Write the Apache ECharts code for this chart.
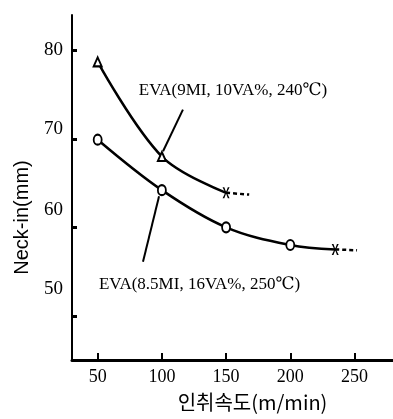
<!DOCTYPE html>
<html>
<head>
<meta charset="utf-8">
<script src="https://cdn.jsdelivr.net/npm/echarts@6/dist/echarts.min.js"></script>
<style>html,body{margin:0;padding:0;background:#fff}#c{width:393px;height:419px}</style>
</head>
<body>
<div id="c"></div>
<script>
// ---- data ----
const xTicks = [50, 100, 150, 200, 250];
const yTicks = [50, 60, 70, 80];
const upperX = [50, 100, 150];
const upperY = [78.7, 68.0, 63.9];
const upperDashX = [150, 168];
const upperDashY = [63.9, 63.7];
const lowerX = [50, 100, 150, 200, 235];
const lowerY = [69.9, 64.2, 60.0, 58.0, 57.5];
const lowerDashX = [235, 252];
const lowerDashY = [57.5, 57.4];
const upperLabel = 'EVA(9MI, 10VA%, 240℃)';
const lowerLabel = 'EVA(8.5MI, 16VA%, 250℃)';
const upperLabelAt = [82, 75.5];
const lowerLabelAt = [51, 53.5];
const upperLeader = [[116.4, 73.3], [100.9, 68.6]];
const lowerLeader = [[97.8, 63.5], [85.3, 56.1]];
const xName = '인취속도(m/min)';
const yName = 'Neck-in(mm)';

const X_SYMBOL = 'path://M0,0L2.5,0L5,6L7.5,0L10,0L6.2,7L10,14L7.5,14L5,8L2.5,14L0,14L3.8,7Z';
const pairs = (xs, ys) => xs.map((x, i) => [x, ys[i]]);

const upperData = pairs(upperX, upperY).map((p, i, a) => i === a.length - 1
  ? { value: p, symbol: X_SYMBOL, symbolSize: [7, 11], itemStyle: { color: '#000', borderWidth: 0 } }
  : { value: p });
const lowerData = pairs(lowerX, lowerY).map((p, i, a) => i === a.length - 1
  ? { value: p, symbol: X_SYMBOL, symbolSize: [7, 11], itemStyle: { color: '#000', borderWidth: 0 } }
  : { value: p });

const serif = "'Liberation Serif', 'DejaVu Serif', serif";
const labelShift = { 80: 0, 70: 20, 60: 34, 50: 54 };

const chart = echarts.init(document.getElementById('c'), null, { renderer: 'canvas' });
chart.setOption({
  animation: false,
  backgroundColor: '#fff',
  grid: { left: 72, right: 0, top: 15, bottom: 59 },
  xAxis: {
    type: 'value', min: 30, max: 280,
    name: xName, nameLocation: 'middle', nameGap: 32,
    nameTextStyle: { fontFamily: "'Noto Sans CJK KR', sans-serif", fontSize: 20, color: '#000', padding: [0, 0, 0, 40] },
    axisLine: { show: true, lineStyle: { color: '#000', width: 3 } },
    axisTick: { show: true, inside: true, length: 7, customValues: xTicks, lineStyle: { color: '#000', width: 2 } },
    axisLabel: { customValues: xTicks, color: '#000', fontFamily: serif, fontSize: 18, margin: 8 },
    splitLine: { show: false }
  },
  yAxis: {
    type: 'value', min: 45, max: 84,
    name: yName, nameLocation: 'middle', nameGap: 40, nameRotate: 90,
    nameTextStyle: { fontFamily: "'Liberation Sans', Arial, sans-serif", fontSize: 20, color: '#000', padding: [0, 60, 0, 0] },
    axisLine: { show: true, lineStyle: { color: '#000', width: 2 } },
    axisTick: { show: true, inside: true, length: 5, customValues: yTicks, lineStyle: { color: '#000', width: 3 } },
    axisLabel: {
      customValues: yTicks, color: '#000', fontFamily: serif, fontSize: 19, margin: 9,
      formatter: v => '{s' + v + '|' + v + '}',
      rich: Object.fromEntries(yTicks.map(t => ['s' + t, { fontFamily: serif, fontSize: 19, color: '#000', padding: [0, 0, labelShift[t], 0] }]))
    },
    splitLine: { show: false }
  },
  series: [
    {
      type: 'line', data: upperData, smooth: 0.35,
      symbol: 'triangle', symbolSize: [8, 9],
      itemStyle: { color: '#fff', borderColor: '#000', borderWidth: 2 },
      lineStyle: { color: '#000', width: 2.5 },
      z: 3,
      markPoint: {
        symbol: 'circle', symbolSize: 0, silent: true,
        label: { show: true, position: 'right', distance: 0, formatter: upperLabel, color: '#000', fontFamily: serif, fontSize: 17 },
        data: [{ coord: upperLabelAt }]
      },
      markLine: {
        symbol: 'none', silent: true, label: { show: false },
        lineStyle: { color: '#000', width: 2, type: 'solid' },
        data: [[{ coord: upperLeader[0] }, { coord: upperLeader[1] }]]
      }
    },
    {
      type: 'line', data: pairs(upperDashX, upperDashY), showSymbol: false, symbol: 'none',
      lineStyle: { color: '#000', width: 2.5, type: [4, 3] }, z: 2
    },
    {
      type: 'line', data: lowerData, smooth: 0.35,
      symbol: 'circle', symbolSize: [8, 10],
      itemStyle: { color: '#fff', borderColor: '#000', borderWidth: 2 },
      lineStyle: { color: '#000', width: 2.5 },
      z: 3,
      markPoint: {
        symbol: 'circle', symbolSize: 0, silent: true,
        label: { show: true, position: 'right', distance: 0, formatter: lowerLabel, color: '#000', fontFamily: serif, fontSize: 17 },
        data: [{ coord: lowerLabelAt }]
      },
      markLine: {
        symbol: 'none', silent: true, label: { show: false },
        lineStyle: { color: '#000', width: 2, type: 'solid' },
        data: [[{ coord: lowerLeader[0] }, { coord: lowerLeader[1] }]]
      }
    },
    {
      type: 'line', data: pairs(lowerDashX, lowerDashY), showSymbol: false, symbol: 'none',
      lineStyle: { color: '#000', width: 2.5, type: [4, 3] }, z: 2
    }
  ]
});
</script>
</body>
</html>
